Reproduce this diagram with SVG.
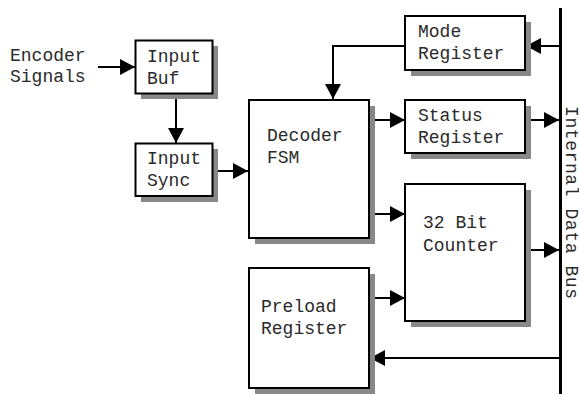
<svg xmlns="http://www.w3.org/2000/svg" width="579" height="394" viewBox="0 0 579 394">
<style>
.box{fill:#fff;stroke:#000;stroke-width:2}
.sh{fill:#888;stroke:none}
.t{font-family:"Courier New","Liberation Mono",monospace;font-size:18px;fill:#2a2a2a}
.c{fill:none;stroke:#000;stroke-width:2}
</style>
<defs>
<marker id="ah" markerUnits="userSpaceOnUse" viewBox="0 0 15 16" refX="15" refY="8" markerWidth="15" markerHeight="16" orient="auto">
<path d="M0,0 L15,8 L0,16 z" fill="#000"/>
</marker>
</defs>
<rect width="579" height="394" fill="#fff"/>
<g id="connectors">
<line class="c" x1="98" y1="67" x2="135" y2="67" marker-end="url(#ah)"/>
<line class="c" x1="176" y1="94" x2="176" y2="143" marker-end="url(#ah)"/>
<line class="c" x1="213" y1="171" x2="248" y2="171" marker-end="url(#ah)"/>
<polyline class="c" points="405,46 333,46 333,99" marker-end="url(#ah)"/>
<line class="c" x1="560" y1="46" x2="526" y2="46" marker-end="url(#ah)"/>
<line class="c" x1="370" y1="120" x2="405" y2="120" marker-end="url(#ah)"/>
<line class="c" x1="526" y1="120" x2="559" y2="120" marker-end="url(#ah)"/>
<line class="c" x1="370" y1="214" x2="405" y2="214" marker-end="url(#ah)"/>
<line class="c" x1="370" y1="298" x2="405" y2="298" marker-end="url(#ah)"/>
<line class="c" x1="526" y1="250" x2="559" y2="250" marker-end="url(#ah)"/>
<line class="c" x1="560" y1="358" x2="370" y2="358" marker-end="url(#ah)"/>
</g>
<g id="bus">
<line x1="560.5" y1="8" x2="560.5" y2="394" stroke="#000" stroke-width="3"/>
<text class="t" transform="translate(565.5,106) rotate(90)" textLength="193" lengthAdjust="spacing">Internal Data Bus</text>
</g>
<g id="encoder-signals">
<text class="t" x="10" y="61">Encoder</text>
<text class="t" x="10" y="82">Signals</text>
</g>
<g id="input-buf">
<rect class="sh" x="141" y="46" width="77" height="53"/>
<rect class="box" x="135.5" y="40.5" width="77" height="53"/>
<text class="t" x="147" y="62">Input</text>
<text class="t" x="147" y="84">Buf</text>
</g>
<g id="input-sync">
<rect class="sh" x="141" y="149" width="77" height="53"/>
<rect class="box" x="135.5" y="143.5" width="77" height="52.5"/>
<text class="t" x="147" y="164">Input</text>
<text class="t" x="147" y="186">Sync</text>
</g>
<g id="decoder-fsm">
<rect class="sh" x="255" y="106" width="120" height="138"/>
<rect class="box" x="249" y="100" width="120" height="138"/>
<text class="t" x="267" y="141">Decoder</text>
<text class="t" x="267" y="163">FSM</text>
</g>
<g id="mode-register">
<rect class="sh" x="411" y="22" width="120" height="54"/>
<rect class="box" x="405" y="16" width="120" height="54"/>
<text class="t" x="418" y="37">Mode</text>
<text class="t" x="418" y="59">Register</text>
</g>
<g id="status-register">
<rect class="sh" x="411" y="106" width="120" height="53"/>
<rect class="box" x="405" y="100" width="120" height="53"/>
<text class="t" x="418" y="121">Status</text>
<text class="t" x="418" y="143">Register</text>
</g>
<g id="counter">
<rect class="sh" x="411" y="190" width="120" height="137"/>
<rect class="box" x="405" y="184" width="120" height="137"/>
<text class="t" x="423" y="228">32 Bit</text>
<text class="t" x="423" y="251">Counter</text>
</g>
<g id="preload-register">
<rect class="sh" x="255" y="274" width="120" height="120"/>
<rect class="box" x="249" y="268" width="120" height="120"/>
<text class="t" x="261" y="312">Preload</text>
<text class="t" x="261" y="334">Register</text>
</g>
</svg>
